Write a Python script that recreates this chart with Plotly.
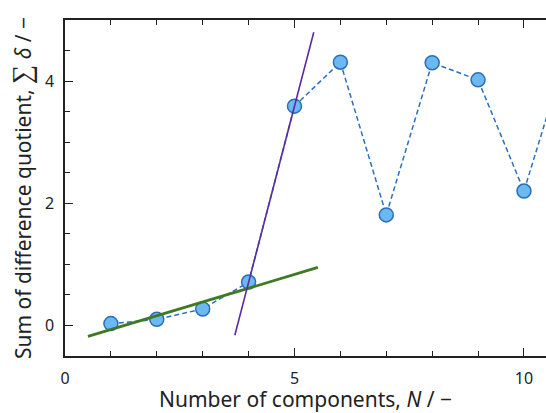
import plotly.graph_objects as go

N = [1, 2, 3, 4, 5, 6, 7, 8, 9, 10, 11]
delta_sum = [0.03, 0.10, 0.27, 0.71, 3.59, 4.31, 1.81, 4.30, 4.02, 2.20, 4.65]

fit_low_x = [0.5, 5.51]
fit_low_y = [-0.18, 0.95]
fit_high_x = [3.70, 5.42]
fit_high_y = [-0.16, 4.80]

x_range = [0, 10.48]
y_range = [-0.5, 5.0]
x_ticks = [0, 5, 10]
y_ticks = [0, 2, 4]

FONT = "Noto Sans"
AX = "#222222"

fig = go.Figure()
fig.add_trace(go.Scatter(
    x=N, y=delta_sum, mode="lines+markers",
    line=dict(color="#2a6fc2", width=1.5, dash="5px,3px"),
    marker=dict(size=14, color="#6cb9f2", line=dict(color="#2a6db8", width=1.5)),
    showlegend=False, cliponaxis=True))
fig.add_trace(go.Scatter(
    x=fit_low_x, y=fit_low_y, mode="lines",
    line=dict(color="#3d7a23", width=2.8), showlegend=False))
fig.add_trace(go.Scatter(
    x=fit_high_x, y=fit_high_y, mode="lines",
    line=dict(color="#5b2ca0", width=1.6), showlegend=False))

fig.update_layout(
    width=546, height=413,
    margin=dict(l=65, r=0, t=20, b=57),
    paper_bgcolor="white", plot_bgcolor="white",
    font=dict(family=FONT, size=16, color="#222222"),
    xaxis=dict(
        range=x_range, tickvals=x_ticks, ticktext=[str(v) for v in x_ticks],
        showgrid=False, zeroline=False, showline=True, linecolor=AX, linewidth=1.5,
        mirror="ticks", ticks="inside", ticklen=8, tickwidth=1.3, tickcolor=AX,
        ticklabelstandoff=7,
        minor=dict(dtick=1, tick0=0, ticks="inside", ticklen=5, tickwidth=1, tickcolor=AX, showgrid=False),
        title=dict(text="Number of components, <i>N</i> / −", font=dict(size=21), standoff=7),
    ),
    yaxis=dict(
        range=y_range, tickvals=y_ticks, ticktext=[str(v) for v in y_ticks],
        showgrid=False, zeroline=False, showline=True, linecolor=AX, linewidth=1.5,
        mirror=False, ticks="inside", ticklen=8, tickwidth=1.3, tickcolor=AX,
        ticklabelstandoff=6,
        minor=dict(dtick=0.5, tick0=0, ticks="inside", ticklen=5, tickwidth=1, tickcolor=AX, showgrid=False),
        title=dict(text="Sum of difference quotient, <span style='font-size:27px'>∑</span> <i>δ</i> / −",
                   font=dict(size=21), standoff=8),
    ),
    yaxis2=dict(
        range=y_range, overlaying="y", side="right", tickvals=y_ticks,
        showticklabels=False, showgrid=False, zeroline=False, showline=False,
        ticks="inside", ticklen=8, tickwidth=1.3, tickcolor=AX,
        minor=dict(dtick=0.5, tick0=0, ticks="inside", ticklen=5, tickwidth=1, tickcolor=AX, showgrid=False),
    ),
)

fig.write_html("out.html", config={"displayModeBar": False},
               post_script="document.body.style.margin='0';document.body.style.overflow='hidden';")
